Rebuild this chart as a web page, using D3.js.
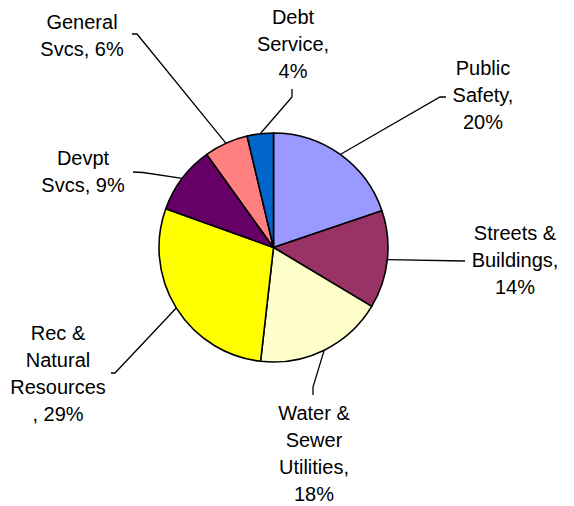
<!DOCTYPE html>
<html>
<head>
<meta charset="utf-8">
<script src="https://cdn.jsdelivr.net/npm/d3@7"></script>
<style>
  body { margin: 0; background: #fff; }
  svg { display: block; font-family: "Liberation Sans", Arial, sans-serif; }
</style>
</head>
<body>
<svg id="chart" width="574" height="506"></svg>
<script>
// budget share by department, clockwise from 12 o'clock
const categories = ['Public Safety', 'Streets & Buildings', 'Water & Sewer Utilities',
    'Rec & Natural Resources', 'Devpt Svcs', 'General Svcs', 'Debt Service'];
const shares = [19.8, 13.8, 18.2, 28.7, 9.6, 6.2, 3.7];
const labelLines = [
    ['Public', 'Safety,', '20%'],
    ['Streets &', 'Buildings,', '14%'],
    ['Water &', 'Sewer', 'Utilities,', '18%'],
    ['Rec &', 'Natural', 'Resources', ', 29%'],
    ['Devpt', 'Svcs, 9%'],
    ['General', 'Svcs, 6%'],
    ['Debt', 'Service,', '4%']
];
const colors = ['#9999ff', '#993366', '#ffffcc', '#ffff00', '#660066', '#ff8080', '#0066cc'];

const width = 574, height = 506;
const cx = 273.5, cy = 247.5, radius = 114.5;
const lineH = 27;

// label block centre (x, first baseline) and leader elbow points
const labelLayout = [
    { x: 483, y: 75,  elbow: [[446, 97], [440, 97]] },
    { x: 515, y: 240, elbow: [[465, 261]] },
    { x: 314, y: 420, elbow: [[313, 395], [313, 387]] },
    { x: 58,  y: 340, elbow: [[111, 373], [115, 373]] },
    { x: 83,  y: 165, elbow: [[133, 172], [143, 172.5]] },
    { x: 82,  y: 29,  elbow: [[132, 34], [137, 34]] },
    { x: 293, y: 24,  elbow: [[292, 89], [292, 97]] }
];

const svg = d3.select('#chart');
const g = svg.append('g').attr('transform', `translate(${cx},${cy})`);

const pie = d3.pie().sort(null).value(d => d);
const arcs = pie(shares);
const arc = d3.arc().innerRadius(0).outerRadius(radius);
const edge = d3.arc().innerRadius(radius).outerRadius(radius);

g.selectAll('path.slice')
    .data(arcs)
    .enter()
    .append('path')
    .attr('class', 'slice')
    .attr('d', arc)
    .attr('fill', (d, i) => colors[i])
    .attr('stroke', '#000')
    .attr('stroke-width', 1.6)
    .attr('stroke-linejoin', 'round');

// leader lines: label elbow -> mid-angle point on the rim
const line = d3.line();
svg.selectAll('path.leader')
    .data(arcs)
    .enter()
    .append('path')
    .attr('class', 'leader')
    .attr('fill', 'none')
    .attr('stroke', '#000')
    .attr('stroke-width', 1.3)
    .attr('d', (d, i) => {
        const [ex, ey] = edge.centroid(d);
        return line([...labelLayout[i].elbow, [cx + ex, cy + ey]]);
    });

const labels = svg.selectAll('text.label')
    .data(categories)
    .enter()
    .append('text')
    .attr('class', 'label')
    .attr('text-anchor', 'middle')
    .attr('font-size', 20)
    .attr('fill', '#000');

labels.selectAll('tspan')
    .data((d, i) => labelLines[i].map(t => ({ t, i })))
    .enter()
    .append('tspan')
    .attr('x', d => labelLayout[d.i].x)
    .attr('y', (d, j) => labelLayout[d.i].y + j * lineH)
    .text(d => d.t);
</script>
</body>
</html>
